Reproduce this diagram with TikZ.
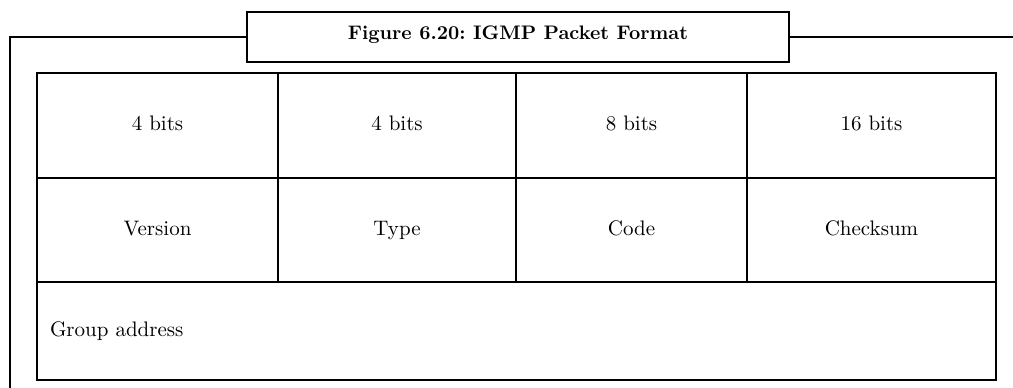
\documentclass[tikz,border=0pt]{standalone}
\usetikzlibrary{positioning}
\tikzset{
  cell/.style={draw=black, line width=1pt, inner sep=0pt, text height=7.5pt, text depth=2.5pt, font=\fontsize{10.5}{12.5}\selectfont},
  titlebox/.style={draw=black, line width=1pt, inner sep=0pt, minimum width=271pt, minimum height=25pt, text height=7pt, text depth=5pt, font=\fontsize{9.8}{12}\selectfont\bfseries},
  frame/.style={draw=black, line width=1pt}
}

\begin{document}
\begin{tikzpicture}[x=0.5pt, y=-0.5pt]
    \useasboundingbox (0,0) rectangle (1013,387);

    % outer frame with the caption box on top
    \node[titlebox] (title) at (518,37) {Figure 6.20:\ IGMP\ Packet\ Format};
    \coordinate (fbot) at (10,395);
    \coordinate (fright) at (1020,37);
    \draw[frame] (fbot) |- (title.west);
    \draw[frame] (title.east) -- (fright);

    % first row: field sizes
    \node[cell, minimum width=120.5pt, minimum height=52.5pt] (size1) at (157.5,125.5) {4 bits};
    \node[cell, minimum width=119pt, minimum height=52.5pt] (size2) at (397,125.5) {4 bits};
    \node[cell, minimum width=115.5pt, minimum height=52.5pt] (size3) at (631.5,125.5) {8 bits};
    \node[cell, minimum width=124.5pt, minimum height=52.5pt] (size4) at (871.5,125.5) {16 bits};

    % second row: field names
    \node[cell, minimum width=120.5pt, minimum height=52pt] (version) at (157.5,230) {Version};
    \node[cell, minimum width=119pt, minimum height=52pt] (type) at (397,230) {Type};
    \node[cell, minimum width=115.5pt, minimum height=52pt] (code) at (631.5,230) {Code};
    \node[cell, minimum width=124.5pt, minimum height=52pt] (checksum) at (871.5,230) {Checksum};

    % third row
    \node[cell, text width=466.5pt, inner xsep=6.5pt, align=left, minimum height=49pt] (group) at (516.5,331) {Group address};
\end{tikzpicture}
\end{document}
